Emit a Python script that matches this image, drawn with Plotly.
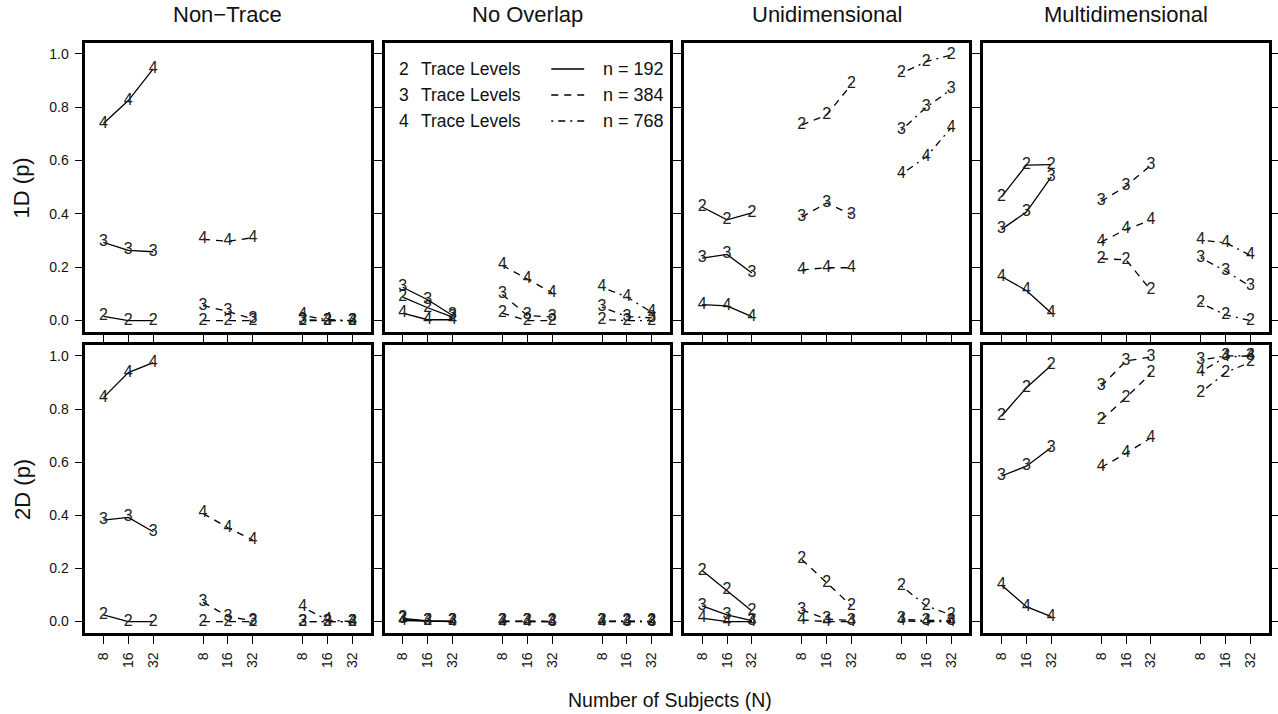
import plotly.graph_objects as go

# ---------------- data ----------------
panel_titles = ["Non\u2212Trace", "No Overlap", "Unidimensional", "Multidimensional"]
row_labels = ["1D (p)", "2D (p)"]
subjects = [8, 16, 32]                 # N
sample_sizes = [192, 384, 768]         # n
trace_levels = ["2", "3", "4"]
group_start = [1, 5, 9]                # x position of N=8 in each n group
y_ticks = [0.0, 0.2, 0.4, 0.6, 0.8, 1.0]
y_ticklabels = ["0.0", "0.2", "0.4", "0.6", "0.8", "1.0"]

# values ordered: n=192 (N=8,16,32), n=384 (N=8,16,32), n=768 (N=8,16,32)
# each panel: [trace level 2, trace level 3, trace level 4]
nontrace_1d = [
    [0.016, 0.0, 0.0, 0.0, 0.0, 0.0, 0.0, 0.0, 0.0],
    [0.293, 0.263, 0.258, 0.056, 0.034, 0.006, 0.003, 0.0, 0.0],
    [0.739, 0.825, 0.944, 0.305, 0.297, 0.311, 0.019, 0.003, 0.0],
]
nooverlap_1d = [
    [0.088, 0.048, 0.013, 0.028, 0.0, 0.0, 0.003, 0.0, 0.0],
    [0.125, 0.078, 0.019, 0.098, 0.019, 0.013, 0.05, 0.015, 0.01],
    [0.028, 0.003, 0.003, 0.207, 0.157, 0.104, 0.125, 0.088, 0.031],
]
unidim_1d = [
    [0.426, 0.378, 0.404, 0.733, 0.771, 0.886, 0.927, 0.971, 0.996],
    [0.234, 0.248, 0.178, 0.388, 0.441, 0.397, 0.714, 0.800, 0.867],
    [0.060, 0.055, 0.015, 0.190, 0.198, 0.198, 0.549, 0.614, 0.723],
]
multidim_1d = [
    [0.464, 0.583, 0.585, 0.232, 0.228, 0.113, 0.065, 0.021, 0.0],
    [0.342, 0.407, 0.539, 0.447, 0.504, 0.583, 0.236, 0.185, 0.128],
    [0.165, 0.113, 0.028, 0.294, 0.342, 0.376, 0.301, 0.292, 0.244],
]
nontrace_2d = [
    [0.025, 0.0, 0.0, 0.0, 0.0, 0.0, 0.0, 0.0, 0.0],
    [0.382, 0.392, 0.338, 0.073, 0.019, 0.003, 0.0, 0.0, 0.0],
    [0.843, 0.937, 0.975, 0.407, 0.353, 0.307, 0.054, 0.006, 0.0],
]
nooverlap_2d = [
    [0.012, 0.003, 0.002, 0.002, 0.002, 0.001, 0.002, 0.001, 0.001],
    [0.008, 0.002, 0.001, 0.001, 0.001, 0.0, 0.001, 0.0, 0.0],
    [0.004, 0.001, 0.0, 0.0, 0.0, 0.0, 0.0, 0.0, 0.0],
]
unidim_2d = [
    [0.192, 0.117, 0.040, 0.234, 0.147, 0.059, 0.134, 0.059, 0.025],
    [0.059, 0.025, 0.004, 0.044, 0.009, 0.004, 0.009, 0.004, 0.004],
    [0.013, 0.0, 0.0, 0.006, 0.0, 0.0, 0.003, 0.0, 0.0],
]
multidim_2d = [
    [0.773, 0.880, 0.965, 0.758, 0.843, 0.934, 0.862, 0.937, 0.977],
    [0.548, 0.585, 0.655, 0.886, 0.981, 0.996, 0.984, 1.0, 1.0],
    [0.138, 0.056, 0.019, 0.580, 0.633, 0.692, 0.940, 0.996, 1.0],
]
panels = [nontrace_1d, nooverlap_1d, unidim_1d, multidim_1d,
          nontrace_2d, nooverlap_2d, unidim_2d, multidim_2d]

# ---------------- style ----------------
W, H = 1278, 714
FONT = "Liberation Sans, Arial, Helvetica, sans-serif"
dashes = ["solid", "7px,6px", "2px,5px,7px,5px"]
col_x0 = [85.5, 385.8, 686.1, 986.4]
col_w = 286.3
row_top = [43, 345]
row_h = [289, 288]

x_tickvals = [g + i for g in group_start for i in range(3)]
x_ticktext = [str(s) for _ in group_start for s in subjects]

fig = go.Figure()
layout = dict(
    width=W, height=H, margin=dict(l=0, r=0, t=0, b=0),
    paper_bgcolor="white", plot_bgcolor="white", showlegend=False,
    font=dict(family=FONT, color="#111"),
)

for k, data in enumerate(panels):
    r, c = divmod(k, 4)
    idx = "" if k == 0 else str(k + 1)
    xa, ya = "x" + idx, "y" + idx
    x0 = col_x0[c] / W
    x1 = (col_x0[c] + col_w) / W
    y1 = 1 - row_top[r] / H
    y0 = 1 - (row_top[r] + row_h[r]) / H
    layout["xaxis" + idx] = dict(
        domain=[x0, x1], anchor=ya, range=[0.27, 11.73],
        tickmode="array", tickvals=x_tickvals, ticktext=x_ticktext,
        showticklabels=(r == 1), ticklabelstandoff=3,
        tickangle=-90, ticks="outside", ticklen=8, tickwidth=1.2, tickcolor="black",
        showline=True, mirror=True, linewidth=2.6, linecolor="black",
        showgrid=False, zeroline=False,
        tickfont=dict(size=14, family=FONT, color="#111"),
    )
    layout["yaxis" + idx] = dict(
        domain=[y0, y1], anchor=xa, range=[-0.043, 1.041],
        tickmode="array", tickvals=y_ticks,
        ticktext=[lab + "\u00a0" for lab in y_ticklabels],
        showticklabels=(c == 0),
        ticks="outside", ticklen=7, tickwidth=1.2, tickcolor="black",
        showline=True, mirror="ticks", linewidth=2.6, linecolor="black",
        showgrid=False, zeroline=False,
        tickfont=dict(size=14, family=FONT, color="#111"),
    )
    for t, series in enumerate(data):
        for g, start in enumerate(group_start):
            xs = [start + i for i in range(3)]
            ys = series[g * 3:(g + 1) * 3]
            fig.add_trace(go.Scatter(
                x=xs, y=ys, xaxis=xa, yaxis=ya,
                mode="lines+text", text=[trace_levels[t]] * 3,
                textposition="middle center",
                textfont=dict(size=16, family=FONT, color="#222"),
                line=dict(color="black", width=1.3, dash=dashes[g]),
                hoverinfo="skip", cliponaxis=False,
            ))

annotations = []
for c, title in enumerate(panel_titles):
    annotations.append(dict(
        text=title, x=(col_x0[c] + col_w / 2) / W, y=1 - 14 / H,
        xref="paper", yref="paper", xanchor="center", yanchor="middle",
        showarrow=False, font=dict(size=22, family=FONT, color="#111"),
    ))
for r, lab in enumerate(row_labels):
    annotations.append(dict(
        text=lab, x=22 / W, y=1 - (row_top[r] + row_h[r] / 2) / H,
        xref="paper", yref="paper", xanchor="center", yanchor="middle",
        textangle=-90, showarrow=False,
        font=dict(size=22, family=FONT, color="#111"),
    ))
annotations.append(dict(
    text="Number of Subjects (N)", x=672 / W, y=1 - 700 / H,
    xref="paper", yref="paper", xanchor="center", yanchor="middle",
    showarrow=False, font=dict(size=19.5, family=FONT, color="#111"),
))

# legend inside the "No Overlap" 1D panel
leg_rows = [69, 95, 121]
shapes = []
for i, yy in enumerate(leg_rows):
    yp = 1 - yy / H
    annotations.append(dict(text=trace_levels[i], x=398 / W, y=yp, xref="paper", yref="paper",
                            xanchor="left", yanchor="middle", showarrow=False,
                            font=dict(size=17.5, family=FONT, color="#111")))
    annotations.append(dict(text="Trace Levels", x=420 / W, y=yp, xref="paper", yref="paper",
                            xanchor="left", yanchor="middle", showarrow=False,
                            font=dict(size=17.5, family=FONT, color="#111")))
    annotations.append(dict(text=f"n = {sample_sizes[i]}", x=603 / W, y=yp, xref="paper", yref="paper",
                            xanchor="left", yanchor="middle", showarrow=False,
                            font=dict(size=18, family=FONT, color="#111")))
    shapes.append(dict(type="line", xref="paper", yref="paper",
                       x0=553 / W, x1=586 / W, y0=yp, y1=yp,
                       line=dict(color="black", width=1.3, dash=dashes[i])))

layout["annotations"] = annotations
layout["shapes"] = shapes
fig.update_layout(**layout)
fig.write_html(
    "out.html",
    config={"displayModeBar": False},
    post_script="document.body.style.margin='0';document.body.style.overflow='hidden';",
)
